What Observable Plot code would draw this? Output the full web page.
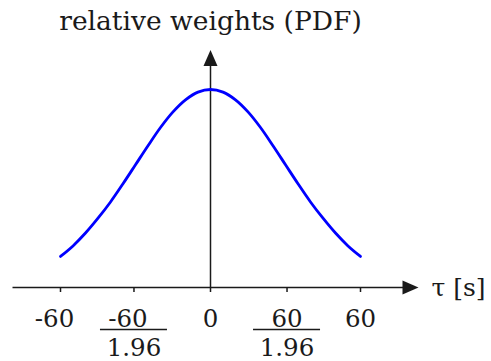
<!DOCTYPE html>
<html><head><meta charset="utf-8">
<script src="https://cdn.jsdelivr.net/npm/d3@7"></script>
<script src="https://cdn.jsdelivr.net/npm/@observablehq/plot@0.6"></script>
<style>body{margin:0;background:#fff}</style>
</head><body><div id="chart"></div>
<script>
// data
const tau = [-60,-55,-50,-45,-40,-35,-30,-25,-20,-15,-10,-5,0,5,10,15,20,25,30,35,40,45,50,55,60];
const weight = [0.157,0.21,0.275,0.35,0.432,0.524,0.62,0.716,0.808,0.887,0.948,0.987,1.0,0.987,0.948,0.887,0.808,0.716,0.62,0.524,0.432,0.35,0.275,0.21,0.157];
const tickPos = [-60, -60/1.96, 0, 60/1.96, 60];
const tickNum = ["-60", "-60", "0", "60", "60"];
const tickDen = ["", "1.96", "", "1.96", ""];
const title = "relative weights (PDF)";
const xLabel = "τ [s]";
const axisStart = -79, axisEnd = 80, xTip = 83.2, yLineTop = 1.13, yTip = 1.2;

const curve = tau.map((t, i) => ({t, w: weight[i]}));
const ticks = tickPos.map((p, i) => ({p, num: tickNum[i], den: tickDen[i]}));
const negTicks = ticks.filter(d => d.num.startsWith("-"));
const posTicks = ticks.filter(d => !d.num.startsWith("-"));
const fracs = ticks.filter(d => d.den);

const arrowHead = {draw(ctx) { ctx.moveTo(0, 0); ctx.lineTo(7, 16); ctx.lineTo(-7, 16); ctx.closePath(); }};
const FS = 24.5, INK = "#1a1a1a";

const chart = Plot.plot({
  width: 491, height: 361,
  marginLeft: 60, marginRight: 131, marginTop: 89, marginBottom: 74,
  style: {fontFamily: "DejaVu Serif", background: "#fff", color: INK},
  x: {domain: [-60, 60], axis: null},
  y: {domain: [0, 1], axis: null},
  marks: [
    Plot.ruleY([0], {x1: axisStart, x2: axisEnd, stroke: INK, strokeWidth: 1.5}),
    Plot.ruleX([0], {y1: 0, y2: yLineTop, stroke: INK, strokeWidth: 1.5}),
    Plot.dot([0], {x: xTip, y: 0, symbol: arrowHead, rotate: 90, fill: INK, stroke: null}),
    Plot.dot([0], {x: 0, y: yTip, symbol: arrowHead, fill: INK, stroke: null}),
    Plot.axisX(tickPos, {tickSize: 5, tickFormat: () => "", label: null, strokeWidth: 1.5}),
    Plot.line(curve, {x: "t", y: "w", stroke: "#0000ff", strokeWidth: 2.8, curve: "catmull-rom"}),
    Plot.text(negTicks, {x: "p", y: 0, text: "num", dy: 39, dx: -6, lineAnchor: "bottom", fontSize: FS, fill: INK}),
    Plot.text(posTicks, {x: "p", y: 0, text: "num", dy: 39, lineAnchor: "bottom", fontSize: FS, fill: INK}),
    Plot.ruleY(fracs, {x1: d => d.p - 13.4, x2: d => d.p + 13.4, y: 0, dy: 42, stroke: INK, strokeWidth: 1.5}),
    Plot.text(fracs, {x: "p", y: 0, text: "den", dy: 68, lineAnchor: "bottom", fontSize: FS, fill: INK}),
    Plot.text([xLabel], {x: xTip, y: 0, dx: 13, textAnchor: "start", lineAnchor: "middle", fontSize: 25, fill: INK}),
    Plot.text([title], {x: 0, y: 1, dy: -60, lineAnchor: "bottom", fontSize: 26.5, fill: INK})
  ]
});
document.getElementById("chart").appendChild(chart);
</script>
</body></html>
